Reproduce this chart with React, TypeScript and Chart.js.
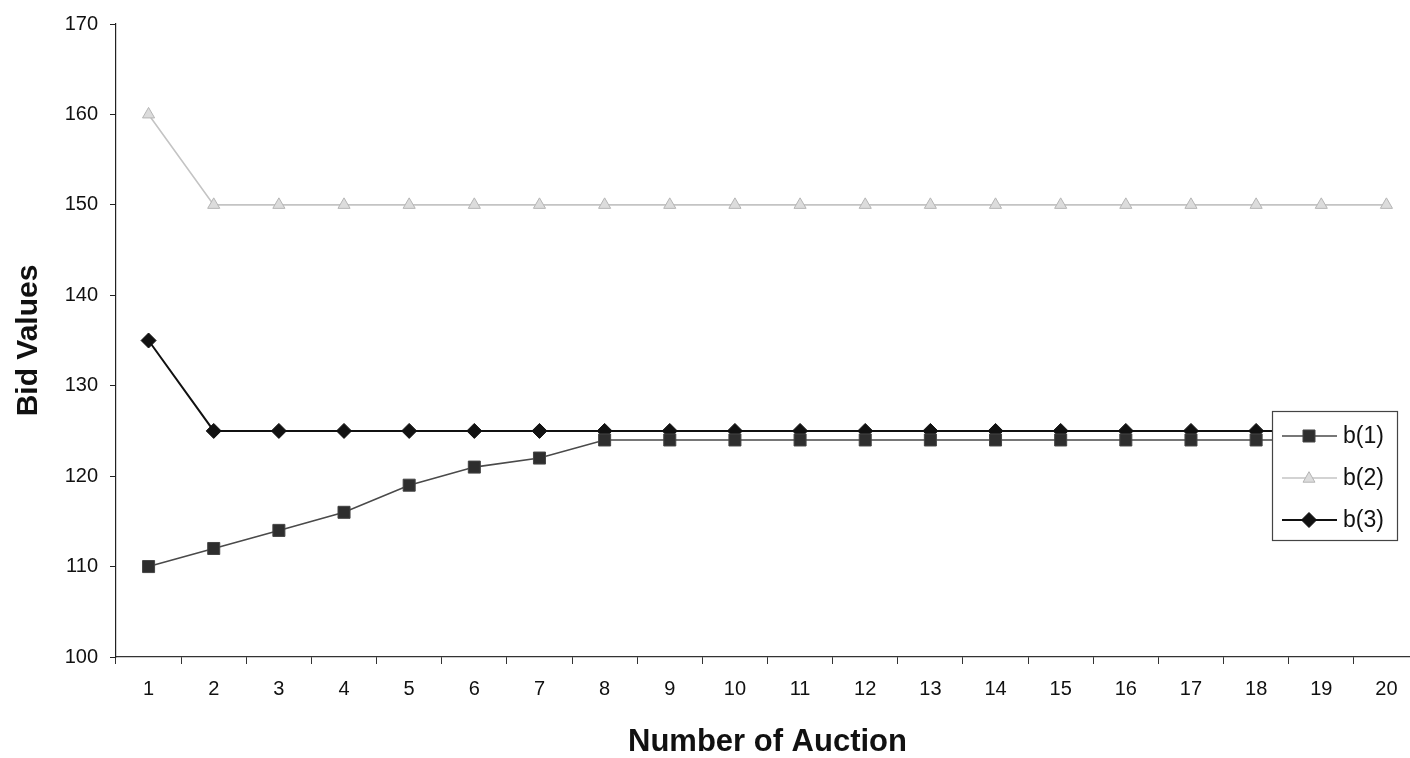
import React, { useEffect, useRef } from "react";
import { Chart, registerables } from "chart.js";

Chart.register(...registerables);

const auctions = ["1","2","3","4","5","6","7","8","9","10","11","12","13","14","15","16","17","18","19","20"];
const b1 = [110, 112, 114, 116, 119, 121, 122, 124, 124, 124, 124, 124, 124, 124, 124, 124, 124, 124, 124, 124];
const b2 = [160, 150, 150, 150, 150, 150, 150, 150, 150, 150, 150, 150, 150, 150, 150, 150, 150, 150, 150, 150];
const b3 = [135, 125, 125, 125, 125, 125, 125, 125, 125, 125, 125, 125, 125, 125, 125, 125, 125, 125, 125, 125];
const seriesLabels = ["b(1)", "b(2)", "b(3)"];
const yTicks = [100, 110, 120, 130, 140, 150, 160, 170];

const FONT = '"Liberation Sans", Arial, Helvetica, sans-serif';

function drawMarker(ctx: CanvasRenderingContext2D, style: string, x: number, y: number, r: number, fill: string, stroke: string) {
  ctx.save();
  ctx.fillStyle = fill;
  ctx.strokeStyle = stroke;
  ctx.lineWidth = 1;
  ctx.beginPath();
  if (style === "rect") {
    const s = Math.SQRT1_2 * r;
    ctx.rect(x - s, y - s, 2 * s, 2 * s);
  } else if (style === "rectRot") {
    ctx.moveTo(x, y - r);
    ctx.lineTo(x + r, y);
    ctx.lineTo(x, y + r);
    ctx.lineTo(x - r, y);
    ctx.closePath();
  } else {
    const h = r * 1.5;
    ctx.moveTo(x, y - h * 0.6);
    ctx.lineTo(x + r * 0.85, y + h * 0.4);
    ctx.lineTo(x - r * 0.85, y + h * 0.4);
    ctx.closePath();
  }
  ctx.fill();
  ctx.stroke();
  ctx.restore();
}

const boxLegend = {
  id: "boxLegend",
  afterDatasetsDraw(chart: any) {
    const { ctx, chartArea } = chart;
    const x0 = Math.round(chartArea.right - 147);
    const y0 = Math.round(chartArea.top + 387);
    const w = 125;
    const h = 129;
    ctx.save();
    ctx.fillStyle = "#ffffff";
    ctx.fillRect(x0, y0, w, h);
    ctx.strokeStyle = "#444";
    ctx.lineWidth = 1.2;
    ctx.strokeRect(x0 + 0.5, y0 + 0.5, w, h);
    chart.data.datasets.forEach((ds: any, i: number) => {
      const cy = y0 + 25 + i * 42;
      ctx.strokeStyle = ds.borderColor;
      ctx.lineWidth = ds.borderWidth;
      ctx.beginPath();
      ctx.moveTo(x0 + 10, cy);
      ctx.lineTo(x0 + 65, cy);
      ctx.stroke();
      drawMarker(ctx, ds.pointStyle, x0 + 37, cy, ds.pointRadius, ds.pointBackgroundColor, ds.pointBorderColor);
      ctx.fillStyle = "#111";
      ctx.font = `23px ${FONT}`;
      ctx.textBaseline = "middle";
      ctx.textAlign = "left";
      ctx.fillText(ds.label, x0 + 71, cy + 1);
    });
    ctx.restore();
  },
};

export default function App() {
  const canvasRef = useRef<HTMLCanvasElement | null>(null);

  useEffect(() => {
    if (!canvasRef.current) return;
    const chart = new Chart(canvasRef.current, {
      type: "line",
      data: {
        labels: auctions,
        datasets: [
          {
            label: seriesLabels[0],
            data: b1,
            borderColor: "#4a4a4a",
            borderWidth: 1.6,
            pointStyle: "rect",
            pointRadius: 8.5,
            pointBackgroundColor: "#2e2e2e",
            pointBorderColor: "#444",
            pointBorderWidth: 1,
            tension: 0,
          },
          {
            label: seriesLabels[1],
            data: b2,
            borderColor: "#c4c4c4",
            borderWidth: 1.6,
            pointStyle: "triangle",
            pointRadius: 7,
            pointBackgroundColor: "#dcdcdc",
            pointBorderColor: "#b5b5b5",
            pointBorderWidth: 1,
            tension: 0,
          },
          {
            label: seriesLabels[2],
            data: b3,
            borderColor: "#111",
            borderWidth: 2,
            pointStyle: "rectRot",
            pointRadius: 7.5,
            pointBackgroundColor: "#111",
            pointBorderColor: "#111",
            pointBorderWidth: 1,
            tension: 0,
          },
        ] as any,
      },
      options: {
        animation: false,
        responsive: false,
        devicePixelRatio: 1,
        layout: { padding: { top: 21, right: 11, bottom: 0, left: 0 } },
        plugins: {
          legend: { display: false },
          tooltip: { enabled: false },
        },
        scales: {
          x: {
            type: "category",
            offset: true,
            grid: {
              display: true,
              offset: true,
              drawOnChartArea: false,
              drawTicks: true,
              tickLength: 7,
              tickColor: "#333",
              tickWidth: 1,
            },
            border: { display: true, color: "#333", width: 1.2 },
            ticks: {
              color: "#111",
              font: { family: FONT, size: 20 },
              padding: 13,
              maxRotation: 0,
              autoSkip: false,
            },
            title: {
              display: true,
              text: "Number of Auction",
              color: "#111",
              font: { family: FONT, size: 31, weight: "bold", lineHeight: 1 },
              padding: { top: 0, bottom: 0 },
            },
            afterFit: (scale: any) => {
              scale.height = 101;
            },
          },
          y: {
            type: "linear",
            min: 100,
            max: 170,
            afterBuildTicks: (scale: any) => {
              scale.ticks = yTicks.map((v) => ({ value: v }));
            },
            grid: {
              display: true,
              drawOnChartArea: false,
              drawTicks: true,
              tickLength: 6,
              tickColor: "#222",
              tickWidth: 1,
            },
            border: { display: true, color: "#222", width: 1.2 },
            ticks: {
              color: "#111",
              font: { family: FONT, size: 20 },
              padding: 12,
            },
            title: {
              display: true,
              text: "Bid Values",
              color: "#111",
              font: { family: FONT, size: 30, weight: "bold", lineHeight: 1.2 },
              padding: { top: 11, bottom: 0 },
            },
            afterFit: (scale: any) => {
              scale.width = 116;
            },
          },
        },
      } as any,
      plugins: [boxLegend],
    });
    return () => chart.destroy();
  }, []);

  return (
    <div
      style={{
        position: "fixed",
        left: 0,
        top: 0,
        width: 1410,
        height: 758,
        overflow: "hidden",
        background: "#ffffff",
      }}
    >
      <canvas ref={canvasRef} width={1430} height={758} style={{ display: "block" }} />
    </div>
  );
}
